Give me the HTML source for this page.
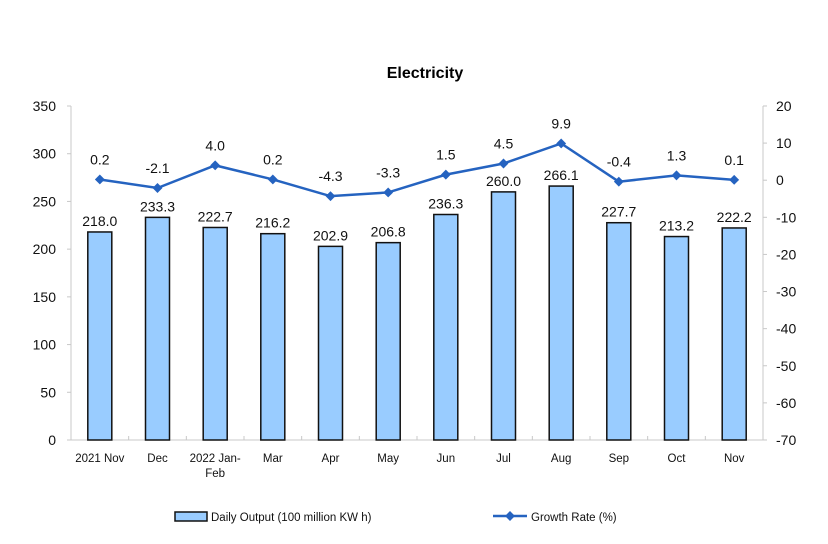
<!DOCTYPE html>
<html><head><meta charset="utf-8"><style>
html,body{margin:0;padding:0;background:#fff;}
svg{display:block;font-family:"Liberation Sans",Arial,sans-serif;}
</style></head><body>
<svg width="828" height="544" viewBox="0 0 828 544" xmlns="http://www.w3.org/2000/svg">
<text x="425" y="78" font-size="16" font-weight="bold" text-anchor="middle" fill="#000">Electricity</text>
<g stroke="#c8c8c8" stroke-width="1" fill="none">
<line x1="71" y1="106" x2="71" y2="440"/>
<line x1="763" y1="106" x2="763" y2="440"/>
<line x1="71" y1="440" x2="763" y2="440"/>
</g>
<g stroke="#c8c8c8" stroke-width="1" id="ticks"></g>
<g font-size="14" fill="#111" text-anchor="end" id="ly"></g>
<g font-size="14" fill="#111" text-anchor="start" id="ry"></g>
<g fill="#99ccff" stroke="#111" stroke-width="1.5">
<rect x="87.8" y="231.97" width="24" height="208.03"/>
<rect x="145.5" y="217.36" width="24" height="222.64"/>
<rect x="203.2" y="227.48" width="24" height="212.52"/>
<rect x="260.8" y="233.68" width="24" height="206.32"/>
<rect x="318.5" y="246.37" width="24" height="193.63"/>
<rect x="376.2" y="242.65" width="24" height="197.35"/>
<rect x="433.8" y="214.50" width="24" height="225.50"/>
<rect x="491.5" y="191.89" width="24" height="248.11"/>
<rect x="549.2" y="186.06" width="24" height="253.94"/>
<rect x="606.8" y="222.71" width="24" height="217.29"/>
<rect x="664.5" y="236.55" width="24" height="203.45"/>
<rect x="722.2" y="227.96" width="24" height="212.04"/>
</g>
<g font-size="14" fill="#111" text-anchor="middle">
<text x="99.8" y="226">218.0</text>
<text x="157.5" y="211.4">233.3</text>
<text x="215.2" y="221.5">222.7</text>
<text x="272.8" y="227.7">216.2</text>
<text x="330.5" y="240.4">202.9</text>
<text x="388.2" y="236.7">206.8</text>
<text x="445.8" y="208.5">236.3</text>
<text x="503.5" y="185.9">260.0</text>
<text x="561.2" y="180.1">266.1</text>
<text x="618.8" y="216.7">227.7</text>
<text x="676.5" y="230.6">213.2</text>
<text x="734.2" y="222">222.2</text>
</g>
<g id="line"></g>
<g font-size="11.5" fill="#111" text-anchor="middle" id="xl"></g>
<rect x="175" y="512" width="32" height="9" fill="#99ccff" stroke="#111" stroke-width="1.5"/>
<text x="211" y="521" font-size="11.5" fill="#111">Daily Output (100 million KW h)</text>
<line x1="493" y1="516" x2="527" y2="516" stroke="#2563c0" stroke-width="2.5"/>
<rect x="506.5" y="512.5" width="7" height="7" fill="#2563c0" transform="rotate(45 510 516)"/>
<text x="531" y="521" font-size="11.5" fill="#111">Growth Rate (%)</text>
</svg>
<script>
var ns="http://www.w3.org/2000/svg";
function el(p,t,a,txt){var e=document.createElementNS(ns,t);for(var k in a)e.setAttribute(k,a[k]);if(txt!==undefined)e.textContent=txt;document.getElementById(p).appendChild(e);return e;}
var x0=71,w=692/12,yb=440,sl=334/350,sr=334/90,z=180.2;
for(var v=0;v<=350;v+=50){var y=yb-v*sl;el("ly","text",{x:56,y:y+5},v);el("ticks","line",{x1:67,y1:y,x2:71,y2:y});}
for(var v=20;v>=-70;v-=10){var y=z-v*sr;el("ry","text",{x:776,y:y+5},v);el("ticks","line",{x1:763,y1:y,x2:767,y2:y});}
for(var i=1;i<12;i++){var x=x0+i*w;el("ticks","line",{x1:x,y1:436,x2:x,y2:440});}
var g=[0.2,-2.1,4.0,0.2,-4.3,-3.3,1.5,4.5,9.9,-0.4,1.3,0.1];
var lab=["2021 Nov","Dec","2022 Jan-","Mar","Apr","May","Jun","Jul","Aug","Sep","Oct","Nov"];
var pts=[];
for(var i=0;i<12;i++){var cx=x0+w*(i+0.5);
var py=z-g[i]*sr;pts.push(cx+","+py);
el("xl","text",{x:cx,y:462},lab[i]);}
el("xl","text",{x:x0+w*2.5,y:477},"Feb");
el("line","polyline",{points:pts.join(" "),fill:"none",stroke:"#2563c0","stroke-width":2.5});
for(var i=0;i<12;i++){var p=pts[i].split(",");var cx=+p[0],py=+p[1];
el("line","rect",{x:cx-3.5,y:py-3.5,width:7,height:7,fill:"#2563c0",transform:"rotate(45 "+cx+" "+py+")"});
el("line","text",{x:cx,y:py-15,"font-size":14,"text-anchor":"middle",fill:"#111"},g[i].toFixed(1));}
</script>
</body></html>
